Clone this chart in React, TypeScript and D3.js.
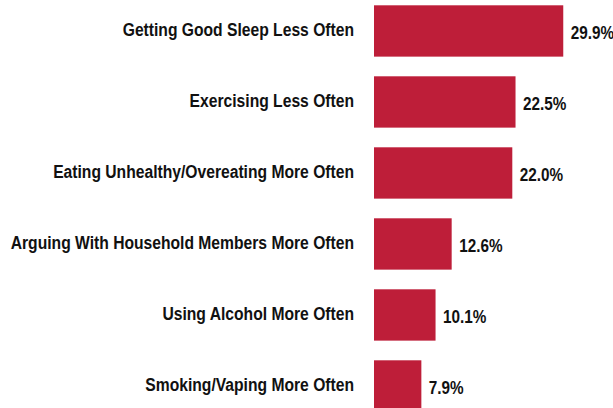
import React from "react";
import * as d3 from "d3";

const categories = [
  "Getting Good Sleep Less Often",
  "Exercising Less Often",
  "Eating Unhealthy/Overeating More Often",
  "Arguing With Household Members More Often",
  "Using Alcohol More Often",
  "Smoking/Vaping More Often",
];
const values = [29.9, 22.5, 22.0, 12.6, 10.1, 7.9];

const W = 613;
const H = 408;
const FONT = "'Liberation Sans', Arial, sans-serif";

export default function App() {
  const axisX = 374;
  const x = d3.scaleLinear().domain([0, 30]).range([370.4, 370.4 + 6.45 * 30]);
  const y = d3
    .scaleBand<string>()
    .domain(categories)
    .range([5.3, 5.3 + 71 * (6 - 0.277)])
    .paddingInner(0.277)
    .paddingOuter(0);
  const bw = y.bandwidth();
  return (
    <svg width={W} height={H} style={{ position: "absolute", left: 0, top: 0, display: "block" }}>
      <rect width={W} height={H} fill="#fff" />
      {categories.map((c, i) => {
        const y0 = y(c)!;
        const xe = x(values[i]);
        const cy = y0 + bw / 2;
        return (
          <g key={c}>
            <rect x={axisX} y={y0} width={xe - axisX} height={bw} fill="#BE1E39" />
            <text
              transform={`translate(354,${cy + 5.5}) scale(0.87,1)`}
              textAnchor="end"
              fontFamily={FONT}
              fontWeight="bold"
              fontSize={18}
              fill="#111"
            >
              {c}
            </text>
            <text
              transform={`translate(${xe + 7.5},${cy + 8.5}) scale(0.85,1)`}
              fontFamily={FONT}
              fontWeight="bold"
              fontSize={18}
              fill="#111"
            >
              {values[i].toFixed(1)}%
            </text>
          </g>
        );
      })}
    </svg>
  );
}
